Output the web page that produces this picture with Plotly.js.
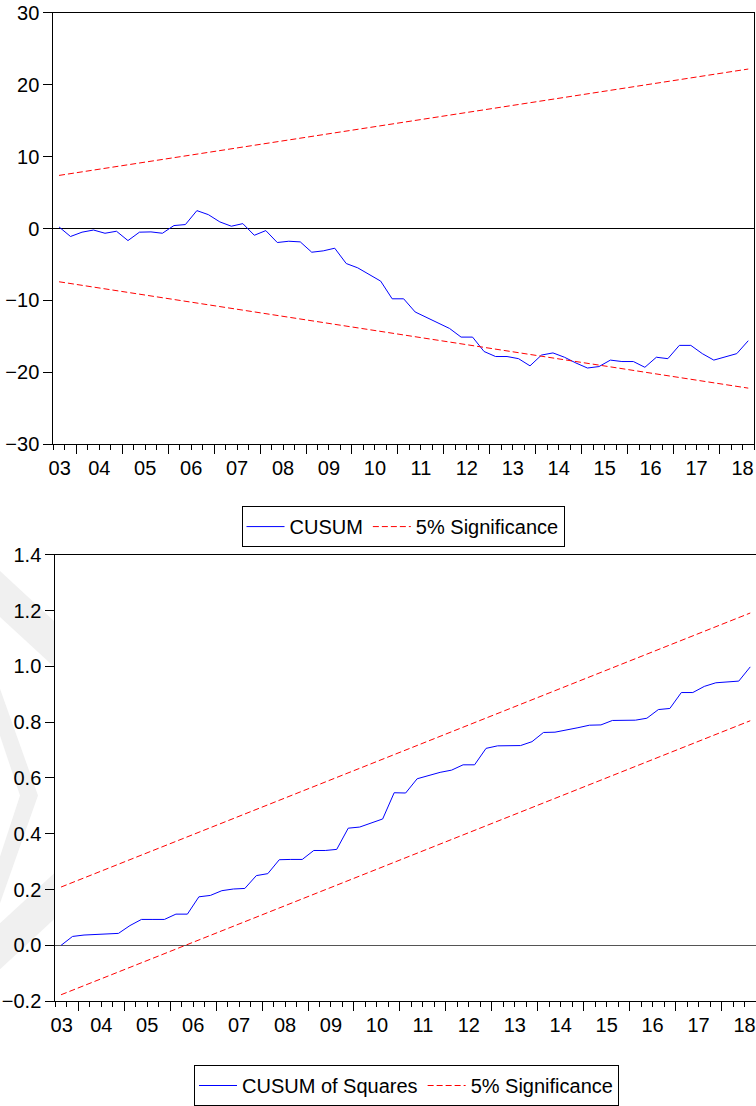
<!DOCTYPE html>
<html><head><meta charset="utf-8">
<script src="https://cdn.plot.ly/plotly-3.0.1.min.js"></script>
<style>html,body{margin:0;padding:0;background:#fff}#chart{width:756px;height:1106px}</style>
</head><body><div id="chart"></div>
<script>
const quarters = ['2003Q3','2003Q4',
 '2004Q1','2004Q2','2004Q3','2004Q4','2005Q1','2005Q2','2005Q3','2005Q4',
 '2006Q1','2006Q2','2006Q3','2006Q4','2007Q1','2007Q2','2007Q3','2007Q4',
 '2008Q1','2008Q2','2008Q3','2008Q4','2009Q1','2009Q2','2009Q3','2009Q4',
 '2010Q1','2010Q2','2010Q3','2010Q4','2011Q1','2011Q2','2011Q3','2011Q4',
 '2012Q1','2012Q2','2012Q3','2012Q4','2013Q1','2013Q2','2013Q3','2013Q4',
 '2014Q1','2014Q2','2014Q3','2014Q4','2015Q1','2015Q2','2015Q3','2015Q4',
 '2016Q1','2016Q2','2016Q3','2016Q4','2017Q1','2017Q2','2017Q3','2017Q4',
 '2018Q1','2018Q2','2018Q3'];
const cusum = [0.23,-1.1,-0.5,-0.2,-0.65,-0.37,-1.67,-0.5,-0.46,-0.65,
 0.42,0.56,2.5,1.94,0.93,0.33,0.69,-0.93,-0.28,-1.94,
 -1.76,-1.85,-3.29,-3.1,-2.73,-4.86,-5.46,-6.44,-7.31,-9.77,
 -9.77,-11.6,-12.4,-13.2,-13.9,-15.1,-15.1,-17.1,-17.8,-17.8,
 -18.1,-19.1,-17.6,-17.3,-17.9,-18.7,-19.4,-19.2,-18.3,-18.5,
 -18.5,-19.3,-17.9,-18.1,-16.25,-16.25,-17.4,-18.3,-17.8,-17.4,-15.6];
const cusumSq = [0,0.032,0.037,0.039,0.042,0.043,0.071,0.093,0.093,0.093,
 0.112,0.112,0.174,0.179,0.196,0.202,0.204,0.25,0.257,0.307,
 0.308,0.308,0.34,0.34,0.344,0.42,0.424,0.438,0.453,0.547,
 0.546,0.597,0.608,0.62,0.628,0.647,0.647,0.706,0.715,0.715,
 0.716,0.73,0.763,0.764,0.771,0.78,0.789,0.79,0.806,0.807,
 0.807,0.814,0.845,0.849,0.906,0.906,0.928,0.941,0.944,0.947,0.998];
const boundQuarters = ['2003Q3','2018Q3'];
const cusumUpper = [7.4, 22.2];
const cusumLower = [-7.4, -22.2];
const sqUpper = [0.209, 1.191];
const sqLower = [-0.177, 0.805];
const yearLabels = ['03','04','05','06','07','08','09','10','11','12','13','14','15','16','17','18'];
const cusumTicks = [-30,-20,-10,0,10,20,30];
const sqTicks = [-0.2,0,0.2,0.4,0.6,0.8,1.0,1.2,1.4];

function qpos(q){ const y=+q.slice(0,4), n=+q.slice(5); return y+(n-1)/4+0.125; }
const xq = quarters.map(qpos);
const xb = boundQuarters.map(qpos);
const xRange = [2003.5, 2018.75];
const labelYears = yearLabels.map(s => 2000 + (+s));
const labelPos = labelYears.map(y => Math.max(y + 0.5, xRange[0] + 0.14));
const yearTicks = labelYears.filter(y => y > xRange[0]);

const FONT = 'Arial, "Liberation Sans", sans-serif';
const FS = 20;
const W = 756, H = 1106;
const DASH = '6px,3px';

const traces = [
 {x:xq, y:cusum, xaxis:'x', yaxis:'y', mode:'lines', name:'CUSUM', line:{color:'#0000ff', width:1}, legend:'legend'},
 {x:xb, y:cusumUpper, xaxis:'x', yaxis:'y', mode:'lines', name:'5% Significance', legendgroup:'s1', line:{color:'#ff0000', width:1, dash:DASH}, legend:'legend'},
 {x:xb, y:cusumLower, xaxis:'x', yaxis:'y', mode:'lines', name:'5% Significance', legendgroup:'s1', showlegend:false, line:{color:'#ff0000', width:1, dash:DASH}, legend:'legend'},
 {x:xq, y:cusumSq, xaxis:'x2', yaxis:'y2', mode:'lines', name:'CUSUM of Squares', line:{color:'#0000ff', width:1}, legend:'legend2'},
 {x:xb, y:sqUpper, xaxis:'x2', yaxis:'y2', mode:'lines', name:'5% Significance', legendgroup:'s2', line:{color:'#ff0000', width:1, dash:DASH}, legend:'legend2'},
 {x:xb, y:sqLower, xaxis:'x2', yaxis:'y2', mode:'lines', name:'5% Significance', legendgroup:'s2', showlegend:false, line:{color:'#ff0000', width:1, dash:DASH}, legend:'legend2'},
 {x:[xRange[0]], y:[0], xaxis:'x3', yaxis:'y', mode:'markers', marker:{opacity:0}, showlegend:false, hoverinfo:'skip'},
 {x:[xRange[0]], y:[0], xaxis:'x4', yaxis:'y2', mode:'markers', marker:{opacity:0}, showlegend:false, hoverinfo:'skip'}
];

const topDom = [53.3/W, 754/W];
const botDom = [55.3/W, 1.0];
const topY = [1-445/H, 1-13/H];
const botY = [1-1003/H, 1-555.7/H];

function tickAxis(dom, anchor){
 return {domain:dom, anchor:anchor, range:xRange, showgrid:false, zeroline:false,
  showline:true, mirror:true, linecolor:'#000', linewidth:1,
  tickmode:'array', tickvals:yearTicks, ticks:'outside', ticklen:9, tickcolor:'#000', tickwidth:1,
  showticklabels:false,
  minor:{tickmode:'linear', tick0:xRange[0], dtick:0.25, ticks:'outside', ticklen:5, tickcolor:'#000', tickwidth:1, showgrid:false}};
}
function labelAxis(over, dom, anchor){
 return {overlaying:over, domain:dom, anchor:anchor, range:xRange, showgrid:false, zeroline:false,
  showline:false, ticks:'', tickmode:'array', tickvals:labelPos, ticktext:yearLabels,
  tickfont:{family:FONT, size:FS, color:'#000'}, ticklabelstandoff:10};
}

// faint background watermark (decoration), pixel coords -> paper
function P(pts){ return 'M' + pts.map(p => (p[0]/W).toFixed(5)+','+(1-p[1]/H).toFixed(5)).join('L') + 'Z'; }
const wm = '#f0f0f0';
const shapes = [
 {type:'path', xref:'paper', yref:'paper', layer:'below', fillcolor:wm, line:{width:0},
  path:P([[0,572],[54,622],[54,668],[0,618]])},
 {type:'path', xref:'paper', yref:'paper', layer:'below', fillcolor:wm, line:{width:0},
  path:P([[0,690],[38,797],[0,905],[0,858],[20,797],[0,737]])},
 {type:'path', xref:'paper', yref:'paper', layer:'below', fillcolor:wm, line:{width:0},
  path:P([[0,925],[54,875],[54,921],[0,971]])}
];

const legendBase = {orientation:'h', xanchor:'center', yanchor:'top', itemwidth:38,
  bordercolor:'#000', borderwidth:1, bgcolor:'#fff', font:{family:FONT, size:FS, color:'#000'}};

const layout = {
 width:W, height:H, margin:{l:0,r:0,t:0,b:0}, paper_bgcolor:'#fff', plot_bgcolor:'rgba(0,0,0,0)',
 font:{family:FONT, size:FS, color:'#000'},
 shapes: shapes,
 xaxis: tickAxis(topDom, 'y'),
 xaxis2: tickAxis(botDom, 'y2'),
 xaxis3: labelAxis('x', topDom, 'y'),
 xaxis4: labelAxis('x2', botDom, 'y2'),
 yaxis: {domain:topY, anchor:'x', range:[-30,30], tickmode:'array', tickvals:cusumTicks,
  ticks:'outside', ticklen:9, tickcolor:'#000', showline:true, mirror:true, linecolor:'#000', linewidth:1,
  showgrid:false, zeroline:true, zerolinecolor:'#000', zerolinewidth:1,
  tickfont:{family:FONT, size:FS, color:'#000'}},
 yaxis2: {domain:botY, anchor:'x2', range:[-0.2,1.4], tickmode:'array', tickvals:sqTicks, tickformat:'.1f',
  ticks:'outside', ticklen:9, tickcolor:'#000', showline:true, mirror:false, linecolor:'#000', linewidth:1,
  showgrid:false, zeroline:true, zerolinecolor:'#555', zerolinewidth:1.5,
  tickfont:{family:FONT, size:FS, color:'#000'}},
 legend: Object.assign({}, legendBase, {x:403/W, y:1-507/H}),
 legend2: Object.assign({}, legendBase, {x:406.5/W, y:1-1067/H}),
 showlegend:true
};

Plotly.newPlot('chart', traces, layout, {staticPlot:true, displayModeBar:false});
</script>
</body></html>
